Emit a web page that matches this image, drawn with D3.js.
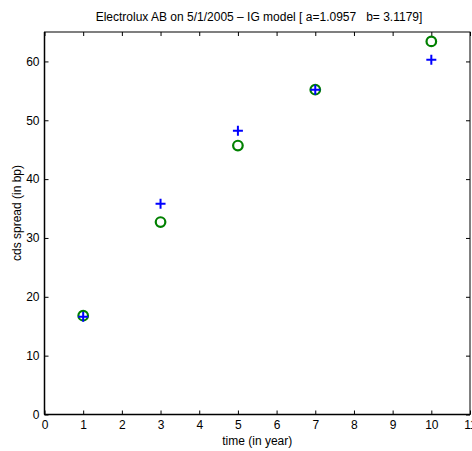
<!DOCTYPE html>
<html><head><meta charset="utf-8">
<script src="https://cdn.jsdelivr.net/npm/d3@7"></script>
<style>body{margin:0;background:#fff}svg{display:block}text{font-family:"Liberation Sans",Arial,sans-serif;fill:#000}</style>
</head><body>
<svg id="c" width="472" height="451"></svg>
<script>
const maturities = [1, 3, 5, 7, 10];
const marketSpread = [16.8, 32.7, 45.7, 55.2, 63.4];
const modelSpread = [16.6, 35.8, 48.2, 55.2, 60.3];
const xTicks = [0,1,2,3,4,5,6,7,8,9,10,11];
const yTicks = [0,10,20,30,40,50,60];
const titleText = "Electrolux AB on 5/1/2005 \u2013 IG model [ a=1.0957   b= 3.1179]";

const svg = d3.select("#c");
const L = 44.5, R = 470, T = 32, B = 414.5;
const x = d3.scaleLinear().domain([0, 11]).range([L, R]);
const y = d3.scaleLinear().domain([0, 65]).range([B, T]);

const g = svg.append("g");
g.append("rect").attr("x", L).attr("y", T).attr("width", R - L).attr("height", B - T)
  .attr("fill", "none").attr("stroke", "#000").attr("stroke-width", 1);

const tl = 4;
const xb = d3.axisBottom(x).tickValues(xTicks).tickSize(-tl).tickPadding(6).tickFormat(d3.format("d"));
const xt = d3.axisTop(x).tickValues(xTicks).tickSize(-tl).tickFormat("");
const yl = d3.axisLeft(y).tickValues(yTicks).tickSize(-tl).tickPadding(5).tickFormat(d3.format("d"));
const yr = d3.axisRight(y).tickValues(yTicks).tickSize(-tl).tickFormat("");
function style(sel){ sel.select(".domain").remove(); sel.selectAll("line").attr("stroke","#000"); sel.selectAll("text").style("font-size","12px").style("font-family","'Liberation Sans',Arial,sans-serif"); }
g.append("g").attr("transform",`translate(0,${B})`).call(xb).call(style);
g.append("g").attr("transform",`translate(0,${T})`).call(xt).call(style);
g.append("g").attr("transform",`translate(${L},0)`).call(yl).call(style);
g.append("g").attr("transform",`translate(${R},0)`).call(yr).call(style);
g.append("line").attr("x1",L).attr("x2",L).attr("y1",T).attr("y2",B).attr("stroke","#000").attr("stroke-width",1.5);
g.append("line").attr("x1",L).attr("x2",R).attr("y1",B).attr("y2",B).attr("stroke","#000").attr("stroke-width",1.5);

const data = maturities.map((t,i)=>({t, m: marketSpread[i], f: modelSpread[i]}));
g.selectAll("circle.mk").data(data).join("circle").attr("class","mk")
  .attr("cx", d=>x(d.t)).attr("cy", d=>y(d.m)).attr("r", 4.8)
  .attr("fill","none").attr("stroke","#008000").attr("stroke-width",2.2);
const cs = 5;
g.selectAll("path.md").data(data).join("path").attr("class","md")
  .attr("d", d=>{const cx=x(d.t), cy=y(d.f); return `M${cx-cs},${cy}H${cx+cs}M${cx},${cy-cs}V${cy+cs}`;})
  .attr("stroke","#0000ff").attr("stroke-width",2).attr("fill","none");

svg.append("text").attr("x", 259).attr("y", 21).attr("text-anchor","middle")
  .style("font-size","12px").style("white-space","pre").attr("xml:space","preserve").text(titleText);
svg.append("text").attr("x", x(5.5)).attr("y", 445).attr("text-anchor","middle").style("font-size","12px").text("time (in year)");
svg.append("text").attr("transform",`translate(21,213) rotate(-90)`).attr("text-anchor","middle").style("font-size","12px").text("cds spread (in bp)");
</script>
</body></html>
